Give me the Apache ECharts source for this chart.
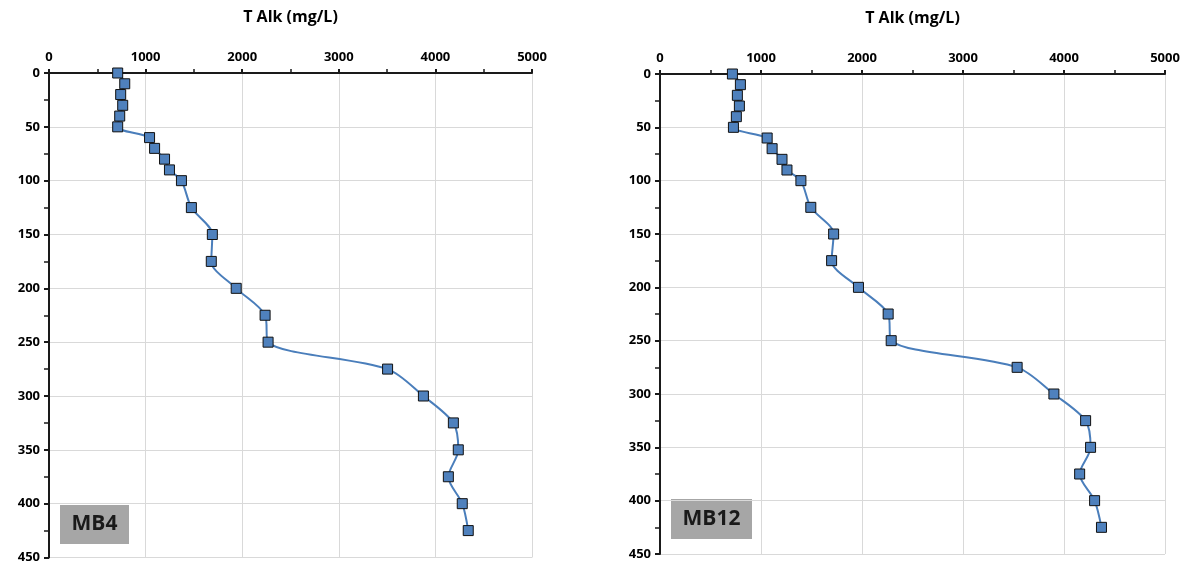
<!DOCTYPE html>
<html>
<head>
<meta charset="UTF-8">
<script src="https://cdn.jsdelivr.net/npm/echarts@6/dist/echarts.min.js"></script>
<style>
  html, body { margin: 0; padding: 0; background: #fff; }
  #main { width: 1184px; height: 564px; }
</style>
</head>
<body>
<div id="main"></div>
<script>
// depth (m) down the profile
var depths = [0, 10, 20, 30, 40, 50, 60, 70, 80, 90, 100, 125, 150, 175, 200, 225, 250, 275, 300, 325, 350, 375, 400, 425];
// total alkalinity (mg/L)
var alkMB4 = [711, 784, 742, 763, 732, 711, 1041, 1093, 1196, 1247, 1371, 1474, 1691, 1680, 1938, 2237, 2268, 3505, 3876, 4186, 4237, 4134, 4278, 4340];
var alkMB12 = [717, 796, 766, 786, 756, 727, 1061, 1110, 1208, 1257, 1395, 1493, 1719, 1699, 1965, 2259, 2289, 3536, 3900, 4214, 4263, 4155, 4303, 4371];
var xTicks = [0, 5000, 1000];   // min, max, step
var yTicks = [0, 450, 50];
var axisTitle = 'T Alk (mg/L)';
var wellNames = ['MB4', 'MB12'];

var font = '"Open Sans", sans-serif';

function pairs(xs) {
    var out = [];
    for (var i = 0; i < xs.length; i++) out.push([xs[i], depths[i]]);
    return out;
}

function plain(v) { return String(v); }

var gridLine = { color: '#d9d9d9', width: 1 };
var major = { color: '#1a1a1a', width: 2 };
var minor = { color: '#1a1a1a', width: 1.5 };

function xAxisFor(idx) {
    return {
        gridIndex: idx,
        type: 'value',
        position: 'top',
        z: 20,
        min: xTicks[0], max: xTicks[1], interval: xTicks[2],
        name: axisTitle,
        nameLocation: 'middle',
        nameGap: 48,
        nameTextStyle: { fontFamily: font, fontWeight: 'bold', fontSize: 16, color: '#000' },
        axisLine: { show: true, lineStyle: major },
        axisTick: { show: true, length: 4, lineStyle: major },
        minorTick: { show: true, splitNumber: 2, length: 4, lineStyle: minor },
        axisLabel: { fontFamily: font, fontWeight: 'bold', fontSize: 13, color: '#000', margin: 9, formatter: plain },
        splitLine: { show: true, lineStyle: gridLine }
    };
}

function yAxisFor(idx) {
    return {
        gridIndex: idx,
        type: 'value',
        inverse: true,
        z: 20,
        min: yTicks[0], max: yTicks[1], interval: yTicks[2],
        axisLine: { show: true, lineStyle: major },
        axisTick: { show: true, length: 5, lineStyle: major },
        minorTick: { show: true, splitNumber: 2, length: 5, lineStyle: minor },
        axisLabel: { fontFamily: font, fontWeight: 'bold', fontSize: 13, color: '#000', margin: 9, formatter: plain },
        splitLine: { show: true, lineStyle: gridLine }
    };
}

function profile(idx, vals) {
    return {
        type: 'line',
        xAxisIndex: idx,
        yAxisIndex: idx,
        data: pairs(vals),
        smooth: 0.3,
        symbol: 'rect',
        symbolSize: 10,
        lineStyle: { color: '#4a7ebb', width: 2 },
        itemStyle: { color: '#4f81bd', borderColor: '#111', borderWidth: 1 },
        z: 25
    };
}

// left and top frame lines, from the axis ranges
function frame(idx) {
    return {
        type: 'line',
        xAxisIndex: idx,
        yAxisIndex: idx,
        data: [[xTicks[0], yTicks[1]], [xTicks[0], yTicks[0]], [xTicks[1], yTicks[0]]],
        symbol: 'none',
        clip: false,
        silent: true,
        lineStyle: { color: '#1a1a1a', width: 2 },
        z: 24
    };
}

function badge(text, left, top, w, h) {
    return {
        type: 'group',
        left: left,
        top: top,
        z: 30,
        children: [
            { type: 'rect', shape: { x: 0, y: 0, width: w, height: h }, style: { fill: '#a6a6a6' } },
            {
                type: 'text', x: w / 2, y: h / 2,
                style: {
                    text: text, fill: '#1a1a1a',
                    font: 'bold 21px "Open Sans", sans-serif',
                    textAlign: 'center', textVerticalAlign: 'middle'
                }
            }
        ]
    };
}

var myChart = echarts.init(document.getElementById('main'));
var option = {
    animation: false,
    grid: [
        { left: 49, top: 73, width: 483, height: 488 },
        { left: 660, top: 74, width: 505, height: 480 }
    ],
    xAxis: [xAxisFor(0), xAxisFor(1)],
    yAxis: [yAxisFor(0), yAxisFor(1)],
    graphic: [badge(wellNames[0], 60, 505, 69, 39), badge(wellNames[1], 671, 499, 81, 40)],
    series: [frame(0), frame(1), profile(0, alkMB4), profile(1, alkMB12)]
};
myChart.setOption(option);
</script>
</body>
</html>
